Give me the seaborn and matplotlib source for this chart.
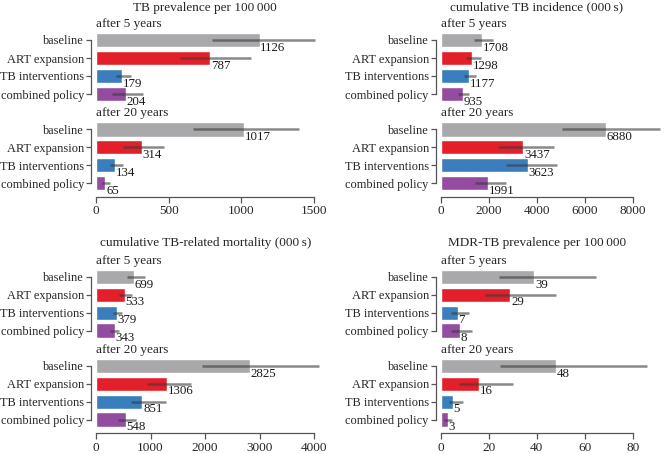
import numpy as np
import pandas as pd
import matplotlib
matplotlib.use("Agg")
import matplotlib.pyplot as plt
import seaborn as sns

# ---------------- data ----------------
scenarios = ["baseline", "ART expansion", "TB interventions", "combined policy"]
colors = ["#a9a9ab", "#e3202a", "#3a7ebd", "#934ca0"]
period_titles = ["after 5 years", "after 20 years"]

panel_titles = ["TB prevalence per 100\u2009000",
                "cumulative TB incidence (000\u2009s)",
                "cumulative TB-related mortality (000\u2009s)",
                "MDR-TB prevalence per 100\u2009000"]

# TB prevalence per 100 000
prev_5y = [1126, 787, 179, 204]
prev_5y_lo = [800, 578, 137, 112]
prev_5y_hi = [1510, 1066, 244, 320]
prev_20y = [1017, 314, 134, 65]
prev_20y_lo = [669, 187, 98, 41]
prev_20y_hi = [1397, 466, 183, 98]
prev_ticks = [0, 500, 1000, 1500]

# cumulative TB incidence (000 s)
inc_5y = [1708, 1298, 1177, 935]
inc_5y_lo = [1370, 1038, 969, 734]
inc_5y_hi = [2173, 1689, 1453, 1190]
inc_20y = [6880, 3437, 3623, 1991]
inc_20y_lo = [5052, 2381, 2727, 1412]
inc_20y_hi = [9135, 4706, 4844, 2727]
inc_ticks = [0, 2000, 4000, 6000, 8000]

# cumulative TB-related mortality (000 s)
mort_5y = [699, 533, 379, 343]
mort_5y_lo = [571, 429, 311, 261]
mort_5y_hi = [894, 652, 484, 429]
mort_20y = [2825, 1306, 851, 548]
mort_20y_lo = [1938, 944, 634, 398]
mort_20y_hi = [4099, 1752, 1286, 727]
mort_ticks = [0, 1000, 2000, 3000, 4000]

# MDR-TB prevalence per 100 000
mdr_5y = [39, 29, 7, 8]
mdr_5y_lo = [24.4, 18.6, 4.2, 4.2]
mdr_5y_hi = [64.8, 48.2, 11.6, 13.2]
mdr_20y = [48, 16, 5, 3]
mdr_20y_lo = [24.8, 7.8, 3.3, 1.3]
mdr_20y_hi = [86, 30.1, 9.1, 4.6]
mdr_ticks = [0, 20, 40, 60, 80]

panels = [
    (prev_ticks, [(prev_5y, prev_5y_lo, prev_5y_hi), (prev_20y, prev_20y_lo, prev_20y_hi)]),
    (inc_ticks, [(inc_5y, inc_5y_lo, inc_5y_hi), (inc_20y, inc_20y_lo, inc_20y_hi)]),
    (mort_ticks, [(mort_5y, mort_5y_lo, mort_5y_hi), (mort_20y, mort_20y_lo, mort_20y_hi)]),
    (mdr_ticks, [(mdr_5y, mdr_5y_lo, mdr_5y_hi), (mdr_20y, mdr_20y_lo, mdr_20y_hi)]),
]

# ---------------- style ----------------
sns.set_style("ticks")
plt.rcParams["font.family"] = ["Liberation Serif", "DejaVu Serif"]
plt.rcParams["font.size"] = 9
spine_col = "#555555"

W, H = 669, 454
fig = plt.figure(figsize=(W / 100, H / 100), dpi=100)

def px_axes(x0, y0, x1, y1):
    return fig.add_axes([x0 / W, 1 - y1 / H, (x1 - x0) / W, (y1 - y0) / H])

# layout (pixels): left edge, tick-span end, axis right edge
col_x = [(96, 314.0, 320), (440.7, 632.7, 665)]
row_groups = [[(31, 103), (120.5, 192)], [(268, 339.5), (357, 428.5)]]
title_pos = [(205, 7.5), (536.5, 7.5), (206, 242.7), (537, 242.7)]

for p, (ticks, groups) in enumerate(panels):
    r, c = divmod(p, 2)
    x0, xt, x1 = col_x[c]
    scale = (xt - x0) / ticks[-1]
    xmax = (x1 - x0) / scale
    for g, (vals, lo, hi) in enumerate(groups):
        y0, y1 = row_groups[r][g]
        ax = px_axes(x0, y0, x1, y1)
        df = pd.DataFrame({"scenario": scenarios, "value": vals})
        sns.barplot(data=df, x="value", y="scenario", hue="scenario",
                    palette=colors, legend=False, orient="h", width=0.8,
                    saturation=1, errorbar=None, ax=ax)
        ypos = np.arange(len(scenarios))
        ax.hlines(ypos, lo, hi, color="#3a3a3a", alpha=0.6, lw=1.8, zorder=5)
        for i, v in enumerate(vals):
            ax.annotate(f"{v}", xy=(v, i), xytext=(0.5, -1.2),
                        textcoords="offset points", ha="left", va="top",
                        fontsize=9.3, color="#1a1a1a", zorder=6)
        ax.set_xlim(0, xmax)
        ax.set_ylim(3.5, -0.5)
        ax.set_xlabel("")
        ax.set_ylabel("")
        ax.annotate(period_titles[g], xy=(0, 1), xycoords="axes fraction",
                    xytext=(0.3, 0.8), textcoords="offset points",
                    ha="left", va="bottom", fontsize=9.5)
        sns.despine(ax=ax, top=True, right=True, offset=3.5)
        ax.spines["left"].set_bounds(0, 3)
        ax.spines["left"].set_color(spine_col)
        ax.spines["left"].set_linewidth(0.9)
        ax.tick_params(axis="y", length=3.6, width=0.9, color=spine_col,
                       pad=1.5, labelsize=8.9)
        if g == 1:
            ax.set_xticks(ticks)
            ax.set_xticklabels([str(t) for t in ticks])
            ax.spines["bottom"].set_bounds(ticks[0], ticks[-1])
            ax.spines["bottom"].set_color(spine_col)
            ax.spines["bottom"].set_linewidth(0.9)
            ax.tick_params(axis="x", length=4, width=0.9, color=spine_col,
                           pad=2, labelsize=9.5)
        else:
            ax.spines["bottom"].set_visible(False)
            ax.set_xticks([])
    tx, ty = title_pos[p]
    fig.text(tx / W, 1 - ty / H, panel_titles[p], ha="center", va="center",
             fontsize=9.5)

fig.savefig("out.png", dpi=100)
